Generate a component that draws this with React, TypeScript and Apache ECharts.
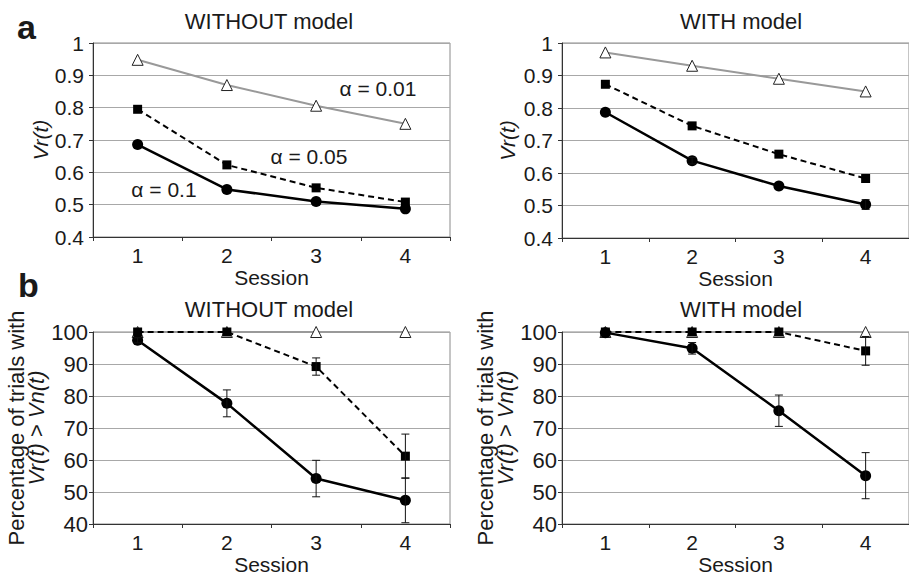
import React, { useEffect, useRef } from "react";
import * as echarts from "echarts";

const sessions = ["1", "2", "3", "4"];
const yTicksVr = ["0.4", "0.5", "0.6", "0.7", "0.8", "0.9", "1"];
const yTicksPct = ["40", "50", "60", "70", "80", "90", "100"];

// Panel a, WITHOUT model (Vr(t))
const vrWithoutA001 = [0.948, 0.87, 0.806, 0.75];
const vrWithoutA005 = [0.795, 0.623, 0.552, 0.508];
const vrWithoutA01 = [0.686, 0.547, 0.51, 0.487];
// Panel a, WITH model
const vrWithA001 = [0.971, 0.93, 0.89, 0.851];
const vrWithA005 = [0.873, 0.745, 0.658, 0.583];
const vrWithA01 = [0.787, 0.638, 0.56, 0.503];
const vrWithA01Err = [0, 0.01, 0, 0.015];

// Panel b, WITHOUT model (% trials Vr > Vn)
const pctWithoutA001 = [100, 100, 100, 100];
const pctWithoutA005 = [100, 100, 89.2, 61.2];
const pctWithoutA005Err = [0, 0, 2.7, 6.9];
const pctWithoutA01 = [97.4, 77.7, 54.2, 47.4];
const pctWithoutA01Err = [0.8, 4.2, 5.7, 7.0];
// Panel b, WITH model
const pctWithA001 = [100, 100, 100, 100];
const pctWithA005 = [100, 100, 100, 94.1];
const pctWithA005Err = [0, 0, 0, 4.5];
const pctWithA01 = [99.8, 94.9, 75.4, 55.1];
const pctWithA01Err = [0, 1.8, 4.9, 7.2];

const FONT = "'Liberation Sans', Arial, Helvetica, sans-serif";
const TXT = "#1a1a1a";

export default function App() {
  const ref = useRef<HTMLDivElement>(null);
  useEffect(() => {
    document.body.style.margin = "0";
    if (!ref.current) return;
    const chart = echarts.init(ref.current, undefined, { renderer: "svg" });

    const grids = [
      { left: 93, top: 43, width: 357, height: 194 },
      { left: 562, top: 43, width: 356, height: 195 },
      { left: 93, top: 332, width: 357, height: 195 },
      { left: 562, top: 332, width: 356, height: 195 },
    ].map((g) => ({ ...g, show: true, borderColor: "#8a8a8a", borderWidth: 1 }));

    const xAxes = grids.map((_, i) => ({
      type: "category",
      gridIndex: i,
      data: sessions,
      boundaryGap: true,
      name: "Session",
      nameLocation: "middle",
      nameGap: 30,
      nameTextStyle: { fontSize: 21, color: TXT, fontFamily: FONT },
      axisLine: { lineStyle: { color: "#333", width: 1 } },
      axisTick: { show: true, length: 4, lineStyle: { color: "#333" } },
      axisLabel: { fontSize: 21, color: TXT, fontFamily: FONT, margin: 8 },
      splitLine: { show: false },
    }));

    const vrName = "Vr(t)";
    const pctName = "Percentage of trials with\n{i|Vr(t)} > {i|Vn(t)}";
    const yAxes = grids.map((_, i) => {
      const isVr = i < 2;
      const ticks = isVr ? yTicksVr : yTicksPct;
      return {
        type: "value",
        gridIndex: i,
        min: Number(ticks[0]),
        max: Number(ticks[ticks.length - 1]),
        interval: isVr ? 0.1 : 10,
        name: isVr ? vrName : pctName,
        nameLocation: "middle",
        nameRotate: 90,
        nameGap: isVr ? (i === 0 ? 39 : 44) : 29,
        nameTextStyle: isVr
          ? { fontSize: 21, color: TXT, fontFamily: FONT, fontStyle: "italic" }
          : {
              fontSize: 22,
              color: TXT,
              fontFamily: FONT,
              lineHeight: 20,
              rich: { i: { fontStyle: "italic", fontSize: 22, fontFamily: FONT, color: TXT, lineHeight: 20 } },
            },
        axisLine: { show: true, lineStyle: { color: "#333", width: 1 } },
        axisTick: { show: true, length: 4, lineStyle: { color: "#333" } },
        axisLabel: {
          fontSize: isVr ? 21 : 22,
          color: TXT,
          fontFamily: FONT,
          margin: isVr ? 9 : 5,
          formatter: (v: number) => String(Number(v.toFixed(1))),
        },
        splitLine: { show: true, lineStyle: { color: "#a8a8a8", width: 1 } },
      };
    });

    const tri = (g: number, data: number[]) => ({
      type: "line",
      xAxisIndex: g,
      yAxisIndex: g,
      data,
      symbol: "triangle",
      symbolSize: 11,
      lineStyle: { color: "#999", width: 2 },
      itemStyle: { color: "#fff", borderColor: "#222", borderWidth: 1 },
      z: 3,
    });
    const sq = (g: number, data: number[]) => ({
      type: "line",
      xAxisIndex: g,
      yAxisIndex: g,
      data,
      symbol: "rect",
      symbolSize: 9,
      lineStyle: { color: "#000", width: 2, type: [6, 4] },
      itemStyle: { color: "#000" },
      z: 4,
    });
    const circ = (g: number, data: number[]) => ({
      type: "line",
      xAxisIndex: g,
      yAxisIndex: g,
      data,
      symbol: "circle",
      symbolSize: 11,
      lineStyle: { color: "#000", width: 2.5 },
      itemStyle: { color: "#000" },
      z: 5,
    });
    const err = (g: number, vals: number[], errs: number[]) => ({
      type: "custom",
      xAxisIndex: g,
      yAxisIndex: g,
      data: vals.map((v, i) => [i, v, errs[i]]),
      clip: false,
      z: 6,
      renderItem: (_p: any, api: any) => {
        const x = api.value(0);
        const y = api.value(1);
        const e = api.value(2);
        if (!e) return null;
        const t = api.coord([x, y + e]);
        const b = api.coord([x, y - e]);
        const w = 4;
        const st = { stroke: "#111", lineWidth: 1 };
        return {
          type: "group",
          children: [
            { type: "line", shape: { x1: t[0], y1: t[1], x2: b[0], y2: b[1] }, style: st },
            { type: "line", shape: { x1: t[0] - w, y1: t[1], x2: t[0] + w, y2: t[1] }, style: st },
            { type: "line", shape: { x1: b[0] - w, y1: b[1], x2: b[0] + w, y2: b[1] }, style: st },
          ],
        };
      },
    });

    const series = [
      tri(0, vrWithoutA001),
      sq(0, vrWithoutA005),
      circ(0, vrWithoutA01),
      tri(1, vrWithA001),
      sq(1, vrWithA005),
      circ(1, vrWithA01),
      err(1, vrWithA01, vrWithA01Err),
      tri(2, pctWithoutA001),
      sq(2, pctWithoutA005),
      circ(2, pctWithoutA01),
      err(2, pctWithoutA005, pctWithoutA005Err),
      err(2, pctWithoutA01, pctWithoutA01Err),
      tri(3, pctWithA001),
      sq(3, pctWithA005),
      circ(3, pctWithA01),
      err(3, pctWithA005, pctWithA005Err),
      err(3, pctWithA01, pctWithA01Err),
    ];

    const txt = (x: number, y: number, text: string, size = 22, extra: any = {}) => ({
      type: "text",
      x,
      y,
      style: {
        text,
        fontSize: size,
        fontFamily: FONT,
        fill: TXT,
        align: "center",
        verticalAlign: "middle",
        ...extra,
      },
      z: 10,
    });

    const graphic = [
      txt(269, 21, "WITHOUT model"),
      txt(741, 21, "WITH model"),
      txt(269, 309, "WITHOUT model"),
      txt(741, 309, "WITH model"),
      txt(17, 27, "a", 34, { fontWeight: "bold", align: "left" }),
      txt(18, 285, "b", 34, { fontWeight: "bold", align: "left" }),
      txt(378, 88, "α = 0.01", 21),
      txt(309, 156, "α = 0.05", 21),
      txt(164, 189, "α = 0.1", 21),
    ];

    chart.setOption({
      animation: false,
      backgroundColor: "#fff",
      grid: grids,
      xAxis: xAxes,
      yAxis: yAxes,
      series,
      graphic,
    });
    return () => chart.dispose();
  }, []);
  return <div ref={ref} style={{ width: 909, height: 576 }} />;
}
